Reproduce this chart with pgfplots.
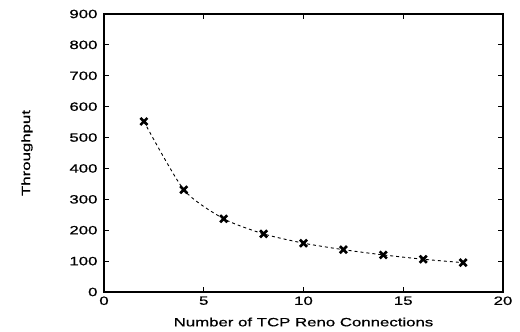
\documentclass[border=0pt]{standalone}
\usepackage{pgfplots}
\pgfplotsset{compat=1.18}
\usepackage{fontspec}
\setmainfont[FakeStretch=1.4,FakeBold=0.8]{Liberation Sans}
\usetikzlibrary{calc}
\begin{document}
\begin{tikzpicture}[x=1pt,y=1pt]
\begin{axis}[
  name=ax,
  scale only axis,
  width=399pt, height=278pt,
  xmin=0, xmax=20, ymin=0, ymax=900,
  xtick={0,5,10,15,20},
  ytick={0,100,...,900},
  tick align=inside,
  tick pos=both,
  major tick length=5pt,
  axis line style={line width=1.1pt},
  tick style={line width=0.9pt, black},
  /pgf/number format/assume math mode=true,
  ticklabel style={font=\fontsize{12}{14}\selectfont},
  label style={font=\fontsize{12}{14}\selectfont},
  xlabel={Number of TCP Reno Connections},
  ylabel={Throughput},
  xlabel style={at={(axis description cs:0.5,-0.108)}, anchor=center},
  ylabel style={at={(axis description cs:-0.193,0.5)}, anchor=center},
  yticklabel style={xshift=-3pt},
  xticklabel style={yshift=-1pt},
]
\addplot[black, dashed, smooth, tension=0.4, line width=0.9pt, mark=x, mark size=5pt,
  mark options={solid, line width=2.6pt}]
  coordinates {(2,552) (4,331) (6,237) (8,188) (10,158) (12,137) (14,120) (16,106) (18,95)};
\end{axis}
\path ($(ax.south west)+(-104pt,-40pt)$) rectangle ($(ax.north east)+(17pt,14pt)$);
\end{tikzpicture}
\end{document}
